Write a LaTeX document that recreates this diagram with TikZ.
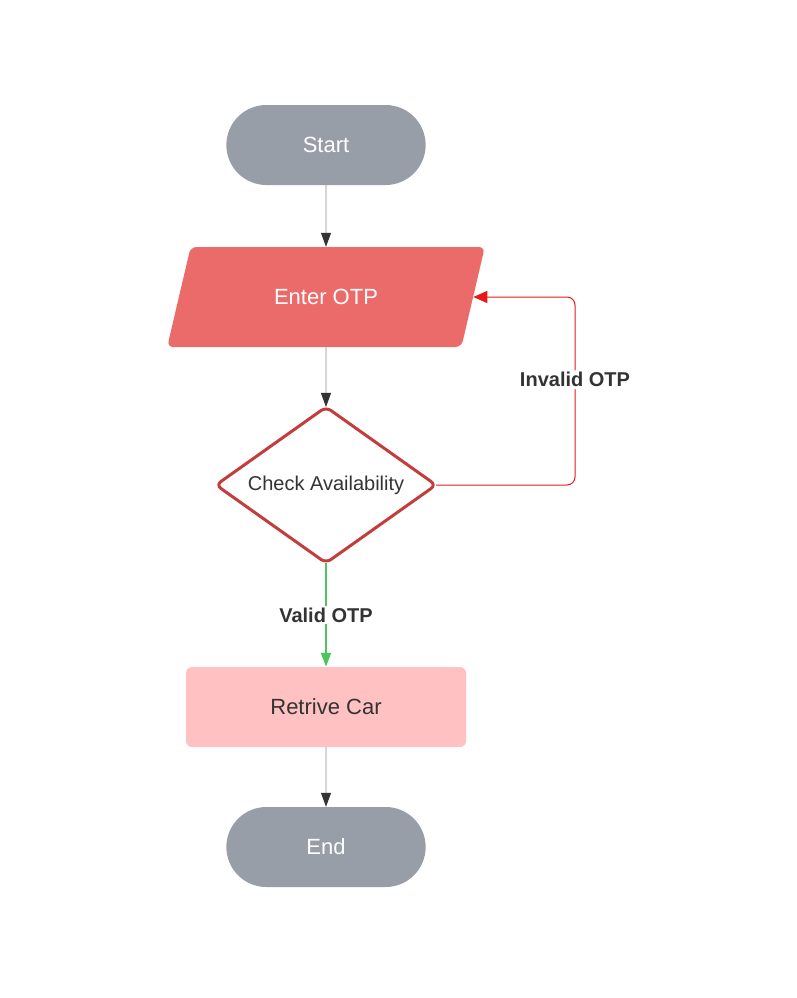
\documentclass[tikz,border=0pt]{standalone}
\usepackage{fontspec}
\setmainfont{Liberation Sans}
\usetikzlibrary{shapes.misc, shapes.geometric, arrows.meta}
\definecolor{termgray}{HTML}{989EA8}
\definecolor{inputred}{HTML}{EB6B6B}
\definecolor{checkred}{HTML}{C43D3D}
\definecolor{carpink}{HTML}{FFC1C1}
\definecolor{looped}{HTML}{E81919}
\definecolor{validgreen}{HTML}{4FC55E}
\definecolor{inkgray}{HTML}{333333}
\tikzstyle{terminal}=[rounded rectangle, fill=termgray, text=white, minimum width=206, minimum height=80, font=\fontsize{22}{26}\selectfont]
\tikzstyle{inputbox}=[trapezium, trapezium stretches=true, trapezium left angle=60, trapezium right angle=120, rounded corners=6, fill=inputred, text=white, minimum width=318, minimum height=100, inner sep=0, font=\fontsize{22}{26}\selectfont]
\tikzstyle{decision}=[diamond, aspect=1.4, rounded corners=6, draw=checkred, line width=3, fill=white, text=inkgray, minimum width=220, minimum height=156, inner sep=0, outer sep=0, font=\fontsize{20}{24}\selectfont]
\tikzstyle{process}=[rectangle, rounded corners=6, fill=carpink, text=inkgray, minimum width=280, minimum height=80, font=\fontsize{22}{26}\selectfont]
\tikzstyle{flow}=[draw=black!45, line width=0.8, -{Triangle[width=10, length=14, color=inkgray]}]
\tikzstyle{edgetext}=[fill=white, text=inkgray, inner sep=2, font=\bfseries\fontsize{20}{24}\selectfont]

\begin{document}
\begin{tikzpicture}[x=1pt, y=-1pt]
    \useasboundingbox (0,0) rectangle (796,998);
% Shapes
    \node[terminal] (start) at (326,145) {Start};
    \node[inputbox] (otp) at (326,297) {Enter OTP};
    \node[decision] (check) at (326,485) {Check Availability};
    \node[process] (car) at (326,707) {Retrive Car};
    \node[terminal] (end) at (326,847) {End};
% Connectors
    \draw[flow] (start) -- (otp);
    \draw[flow] (otp) -- (check);
    \draw[flow] (car) -- (end);
    \draw[line width=2, validgreen, -{Triangle[width=10, length=14]}] (check) -- (car)
        node[midway, edgetext] {Valid OTP};
    \draw[line width=1, looped, rounded corners=8, -{Triangle[width=12, length=14]}] (check.east) -- ++(139,0) |- (otp.east)
        node[pos=0.28, edgetext] {Invalid OTP};
\end{tikzpicture}
\end{document}
